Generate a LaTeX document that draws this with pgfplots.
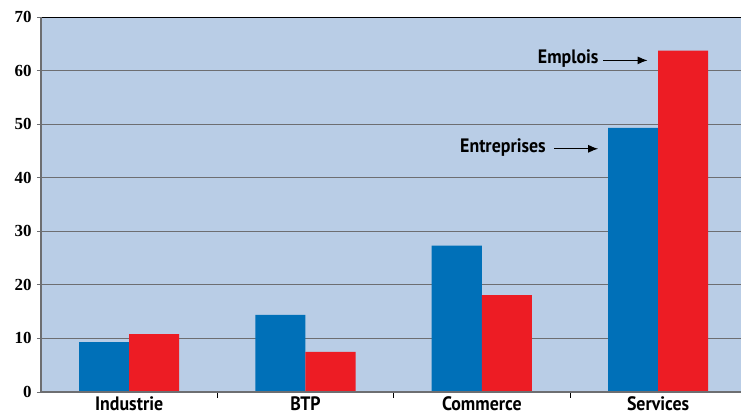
\documentclass[border=0pt]{standalone}
\usepackage{fontspec}
\setmainfont{Liberation Serif}
\newfontfamily\catfont[FakeStretch=0.92]{PT Sans}
\usepackage{pgfplots}
\pgfplotsset{compat=1.18}
\usetikzlibrary{arrows.meta}
\definecolor{bgblue}{HTML}{B9CDE6}
\definecolor{barblue}{HTML}{0070B8}
\definecolor{barred}{HTML}{ED1C24}
\definecolor{axgray}{HTML}{6D6E71}
\begin{document}
\begin{tikzpicture}
\begin{axis}[
  at={(0,0)}, anchor=south west,
  scale only axis, width=700bp, height=375bp,
  ybar=0pt, bar width=0.284,
  xmin=-0.5, xmax=3.47, ymin=0, ymax=70,
  xtick={0,1,2,3}, xticklabels={Industrie,BTP,Commerce,Services},
  minor xtick={0.5,1.5,2.5},
  ytick={0,10,...,70},
  tick pos=left,
  axis background/.style={fill=bgblue},
  axis line style={draw=none},
  ymajorgrids, grid style={draw=axgray, line width=0.9pt},
  major x tick style={draw=none},
  minor x tick style={draw=black, line width=0.7pt},
  minor tick length=5.5bp,
  y tick style={draw=axgray, line width=0.8pt},
  tick align=outside, major tick length=4bp,
  xticklabel style={font=\catfont\bfseries\fontsize{19.5}{19.5}\selectfont, yshift=3bp},
  yticklabel style={font=\bfseries\fontsize{17}{17}\selectfont, xshift=-2bp},
  /pgf/number format/assume math mode=true,
  clip=false,
]
\addplot[fill=barblue, draw=none] coordinates {(0,9.3) (1,14.4) (2,27.3) (3,49.3)};
\addplot[fill=barred, draw=none] coordinates {(0,10.8) (1,7.5) (2,18.1) (3,63.7)};
\draw[black, line width=0.9pt] (axis cs:-0.5,70) -- (axis cs:3.47,70);
\draw[axgray, line width=2.2pt] (axis cs:-0.5,0) -- (axis cs:-0.5,70);
\draw[axgray, line width=2.2pt] (axis cs:-0.5,0) -- (axis cs:3.47,0);
\node[font=\catfont\bfseries\fontsize{19.5}{19.5}\selectfont] at (axis cs:2.49,62.2) {Emplois};
\draw[-{Latex[length=10bp,width=8bp]}, line width=1pt, black] (axis cs:2.69,61.9) -- (axis cs:2.94,61.9);
\node[font=\catfont\bfseries\fontsize{19.5}{19.5}\selectfont] at (axis cs:2.12,45.7) {Entreprises};
\draw[-{Latex[length=10bp,width=8bp]}, line width=1pt, black] (axis cs:2.41,45.4) -- (axis cs:2.66,45.4);
\end{axis}
\pgfresetboundingbox
\path[use as bounding box] (-41bp,-23bp) rectangle (700bp,392bp);
\end{tikzpicture}
\end{document}
